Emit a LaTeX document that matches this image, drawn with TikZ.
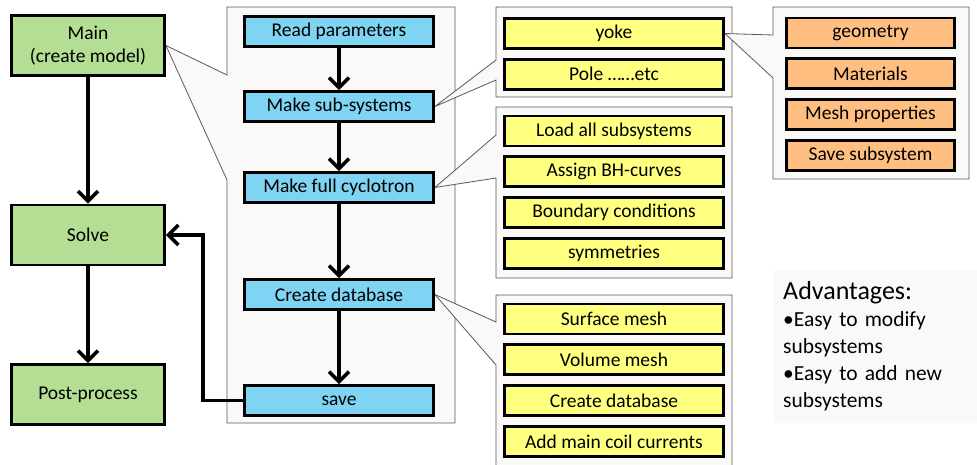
\documentclass[tikz,border=0pt]{standalone}
\usepackage{fontspec}
\setmainfont{Carlito}
\definecolor{mainGreen}{HTML}{B3DE94}
\definecolor{stepBlue}{HTML}{7FD3F3}
\definecolor{subYellow}{HTML}{FFFF80}
\definecolor{partOrange}{HTML}{FFBF80}
\definecolor{panelGray}{HTML}{FAF9F8}
\usetikzlibrary{
  positioning,
  arrows.meta,
  backgrounds
}

\begin{document}
\begin{tikzpicture}[
  x=1pt, y=-1pt,
  >={Straight Barb[length=10pt,width=20pt]},
  node distance=8pt,
  box/.style={
    rectangle, draw=black, line width=2.8pt, align=center,
    font=\fontsize{19.5}{23}\selectfont, inner sep=2pt
  },
  top/.style={box, fill=mainGreen, minimum width=153pt, minimum height=60pt},
  stepbox/.style={box, fill=stepBlue, minimum width=189pt, minimum height=30pt},
  sub/.style={box, fill=subYellow, minimum width=219pt, minimum height=30pt},
  part/.style={box, fill=partOrange, minimum width=168pt, minimum height=30pt},
  panel/.style={draw=black!65, line width=0.8pt, fill=panelGray},
  flow/.style={->, line width=3.6pt}
]
\useasboundingbox (0,0) rectangle (977,465);

% main program
\node[top] (main) at (88,45.5) {Main\\(create model)};
\node[top] (solve) at (88,235) {Solve};
\node[top] (post) at (88,394.5) {Post-process};

% steps of the model
\node[stepbox] (readpar) at (339,31.5) {Read parameters};
\node[stepbox] (subsys) at (339,106.5) {Make sub-systems};
\node[stepbox] (fullcyc) at (339,187.5) {Make full cyclotron};
\node[stepbox] (createdb) at (339,294.5) {Create database};
\node[stepbox] (save) at (339,400.5) {save};

% sub-systems
\node[sub] (yoke) at (614,33.5) {yoke};
\node[sub, below=of yoke] (pole) {Pole \ldots\ldots etc};

% full cyclotron
\node[sub] (loadall) at (614,131) {Load all subsystems};
\node[sub, below=of loadall] (bhcurve) {Assign BH-curves};
\node[sub, below=of bhcurve] (boundary) {Boundary conditions};
\node[sub, below=of boundary] (symm) {symmetries};

% database
\node[sub] (surfmesh) at (614,319) {Surface mesh};
\node[sub, below=of surfmesh] (volmesh) {Volume mesh};
\node[sub, below=of volmesh] (dbase) {Create database};
\node[sub, below=of dbase] (coils) {Add main coil currents};

% one subsystem
\node[part] (geom) at (870.5,33) {geometry};
\node[part, below=of geom] (mater) {Materials};
\node[part, below=of mater] (meshprop) {Mesh properties};
\node[part, below=of meshprop] (savesub) {Save subsystem};

\node[fill=panelGray, anchor=north west, minimum width=204pt, minimum height=153pt,
  text width=186pt, inner xsep=10pt, align=left,
  font=\fontsize{21.5}{27}\selectfont] (adv) at (773,270)
  {{\fontsize{26}{30}\selectfont Advantages:}\\
   •Easy to modify\\subsystems\\•Easy to add new\\subsystems};

\draw[flow] (main) -- (solve);
\draw[flow] (solve) -- (post);
\draw[flow] (readpar) -- (subsys);
\draw[flow] (subsys) -- (fullcyc);
\draw[flow] (fullcyc) -- (createdb);
\draw[flow] (createdb) -- (save);
\draw[flow] (save.west) -- ++(-40,0) |- (solve.east);

% callout panels
\begin{scope}[on background layer]
  \clip (0,0) rectangle (977,465);
  \draw[panel] (227,7) -- (455,7) -- (455,423) -- (227,423) -- (227,180)
    -- (main.east) -- (227,75) -- cycle;
  \draw[panel] (496,7) -- (732,7) -- (732,97) -- (496,97) -- (496,80)
    -- (subsys.east) -- (496,60) -- cycle;
  \draw[panel] (496,107) -- (732,107) -- (732,278) -- (496,278) -- (496,178)
    -- (fullcyc.east) -- (496,135) -- cycle;
  \draw[panel] (496,295) -- (732,295) -- (732,475) -- (496,475) -- (496,365)
    -- (createdb.east) -- (496,322) -- cycle;
  \draw[panel] (773,7) -- (969,7) -- (969,179) -- (773,179) -- (773,78)
    -- (yoke.east) -- (773,35) -- cycle;
\end{scope}

\end{tikzpicture}
\end{document}
